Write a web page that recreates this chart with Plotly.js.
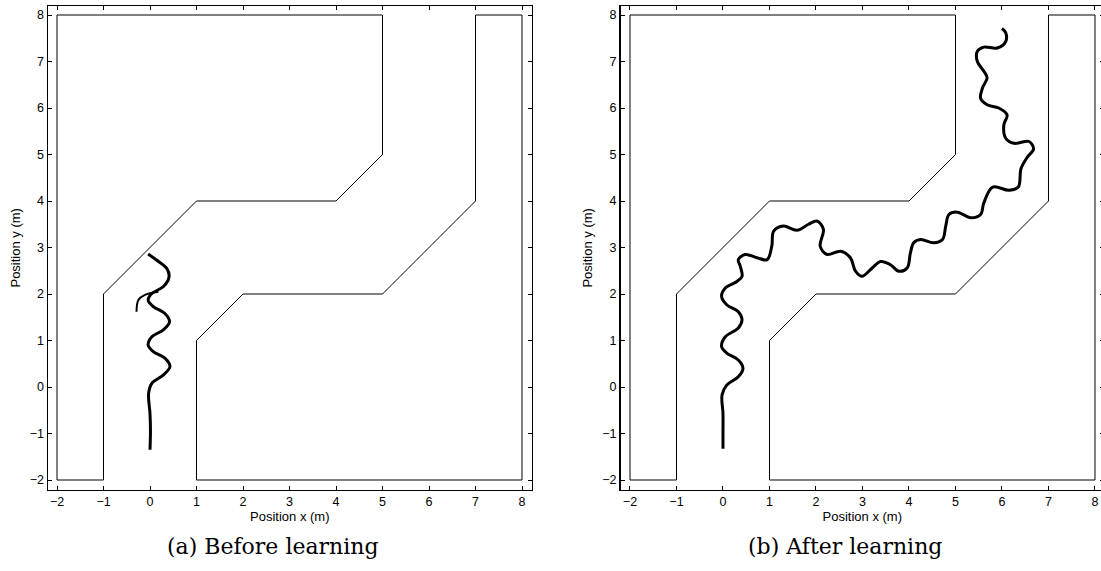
<!DOCTYPE html>
<html>
<head>
<meta charset="utf-8">
<script src="https://cdn.plot.ly/plotly-3.0.1.min.js"></script>
<style>
html,body{margin:0;padding:0;background:#fff;overflow:hidden;width:1101px;height:571px;}
#chart{width:1110px;height:571px;}
</style>
</head>
<body>
<div id="chart"></div>
<script>
// Corridor walls (same for both panels)
const wallAX = [-2, -2, 5, 5, 4, 1, -1, -1, -2];
const wallAY = [-2, 8, 8, 5, 4, 4, 2, -2, -2];
const wallBX = [1, 1, 2, 5, 7, 7, 8, 8, 1];
const wallBY = [-2, 1, 2, 2, 4, 8, 8, -2, -2];

// (a) Before learning trajectory
const beforeX = [0.00, 0.01, 0.00, -0.03, 0.04, 0.29, 0.43, 0.32, 0.07, -0.04, 0.04, 0.29, 0.42, 0.32, 0.07, -0.04, 0.04, 0.29, 0.41, 0.36, 0.14, -0.04];
const beforeY = [-1.35, -0.95, -0.57, -0.14, 0.08, 0.26, 0.44, 0.62, 0.76, 0.90, 1.08, 1.23, 1.40, 1.58, 1.73, 1.87, 2.01, 2.16, 2.37, 2.55, 2.73, 2.86];
const branchX = [0.18, -0.11, -0.25, -0.29];
const branchY = [2.05, 1.98, 1.87, 1.62];

// (b) After learning trajectory
const afterX = [0.00, 0.00, 0.00, -0.02, 0.08, 0.33, 0.43, 0.33, 0.08, -0.03, 0.05, 0.33, 0.41, 0.33, 0.08, -0.03, 0.05, 0.30, 0.41, 0.37, 0.33, 0.48, 0.73, 0.95, 1.05, 1.09, 1.30, 1.59, 1.84, 2.02, 2.16, 2.09, 2.24, 2.53, 2.74, 2.85, 2.99, 3.21, 3.39, 3.60, 3.78, 3.96, 4.03, 4.10, 4.25, 4.53, 4.72, 4.79, 4.86, 5.04, 5.33, 5.54, 5.61, 5.80, 6.15, 6.35, 6.41, 6.55, 6.68, 6.58, 6.26, 6.08, 6.04, 6.11, 5.93, 5.68, 5.54, 5.58, 5.68, 5.61, 5.47, 5.47, 5.61, 5.90, 6.08, 6.08, 6.00];
const afterY = [-1.33, -0.95, -0.57, -0.17, 0.04, 0.22, 0.40, 0.58, 0.73, 0.87, 1.08, 1.27, 1.45, 1.62, 1.77, 1.95, 2.13, 2.27, 2.38, 2.60, 2.74, 2.85, 2.78, 2.74, 3.03, 3.35, 3.46, 3.37, 3.50, 3.57, 3.39, 3.03, 2.85, 2.92, 2.78, 2.49, 2.38, 2.56, 2.70, 2.63, 2.49, 2.56, 2.88, 3.10, 3.17, 3.10, 3.17, 3.46, 3.71, 3.76, 3.64, 3.71, 3.96, 4.30, 4.23, 4.30, 4.70, 4.95, 5.12, 5.28, 5.24, 5.35, 5.64, 5.85, 6.00, 6.07, 6.21, 6.43, 6.65, 6.79, 7.00, 7.22, 7.31, 7.29, 7.43, 7.62, 7.71];

const tickVals = [-2, -1, 0, 1, 2, 3, 4, 5, 6, 7, 8];
const tickText = ["\u22122", "\u22121", "0", "1", "2", "3", "4", "5", "6", "7", "8"];
const xTitle = "Position x (m)";
const yTitle = "Position y (m)";
const captions = ["(a) Before learning", "(b) After learning"];

const W = 1110, H = 571;
const wallStyle = {color: '#000', width: 1};
const trajStyle = {color: '#000', width: 3, shape: 'spline', smoothing: 1};

const traces = [
  {x: wallAX, y: wallAY, mode: 'lines', line: wallStyle, xaxis: 'x', yaxis: 'y', hoverinfo: 'skip'},
  {x: wallBX, y: wallBY, mode: 'lines', line: wallStyle, xaxis: 'x', yaxis: 'y', hoverinfo: 'skip'},
  {x: beforeX, y: beforeY, mode: 'lines', line: trajStyle, xaxis: 'x', yaxis: 'y'},
  {x: branchX, y: branchY, mode: 'lines', line: {color: '#000', width: 2, shape: 'spline'}, xaxis: 'x', yaxis: 'y'},
  {x: wallAX, y: wallAY, mode: 'lines', line: wallStyle, xaxis: 'x2', yaxis: 'y2', hoverinfo: 'skip'},
  {x: wallBX, y: wallBY, mode: 'lines', line: wallStyle, xaxis: 'x2', yaxis: 'y2', hoverinfo: 'skip'},
  {x: afterX, y: afterY, mode: 'lines', line: trajStyle, xaxis: 'x2', yaxis: 'y2'}
];

const tickFont = {family: 'Liberation Sans, Arial, sans-serif', size: 12.5, color: '#000'};
const titleFont = {family: 'Liberation Sans, Arial, sans-serif', size: 13, color: '#000'};
function axis(extra) {
  return Object.assign({
    tickmode: 'array', tickvals: tickVals, ticktext: tickText,
    ticks: 'inside', ticklen: 4, tickwidth: 1, tickcolor: '#000',
    showline: true, linecolor: '#000', linewidth: 1.5, mirror: 'ticks',
    showgrid: false, zeroline: false, tickfont: tickFont, fixedrange: true
  }, extra);
}
const yDom = [1 - 489.6 / H, 1 - 6 / H];
const layout = {
  width: W, height: H,
  margin: {l: 0, r: 0, t: 0, b: 0},
  paper_bgcolor: '#fff', plot_bgcolor: '#fff',
  showlegend: false,
  xaxis: axis({domain: [48 / W, 531.6 / W], range: [-2.1935, 8.2065], anchor: 'y',
    title: {text: xTitle, font: titleFont, standoff: 3}}),
  yaxis: axis({domain: yDom, range: [-2.2065, 8.1935], anchor: 'x',
    title: {text: yTitle, font: titleFont, standoff: 6}}),
  xaxis2: axis({domain: [620.5 / W, 1104.1 / W], range: [-2.204, 8.196], anchor: 'y2',
    title: {text: xTitle, font: titleFont, standoff: 3}}),
  yaxis2: axis({domain: yDom, range: [-2.2065, 8.1935], anchor: 'x2',
    title: {text: yTitle, font: titleFont, standoff: 6}}),
  annotations: [
    {text: captions[0], xref: 'paper', yref: 'paper', x: 273 / W, y: 1 - 546 / H, xanchor: 'center', yanchor: 'middle', showarrow: false,
      font: {family: 'DejaVu Serif, serif', size: 22, color: '#000'}},
    {text: captions[1], xref: 'paper', yref: 'paper', x: 845 / W, y: 1 - 546 / H, xanchor: 'center', yanchor: 'middle', showarrow: false,
      font: {family: 'DejaVu Serif, serif', size: 22, color: '#000'}}
  ]
};
Plotly.newPlot('chart', traces, layout, {displayModeBar: false, staticPlot: true});
</script>
</body>
</html>
